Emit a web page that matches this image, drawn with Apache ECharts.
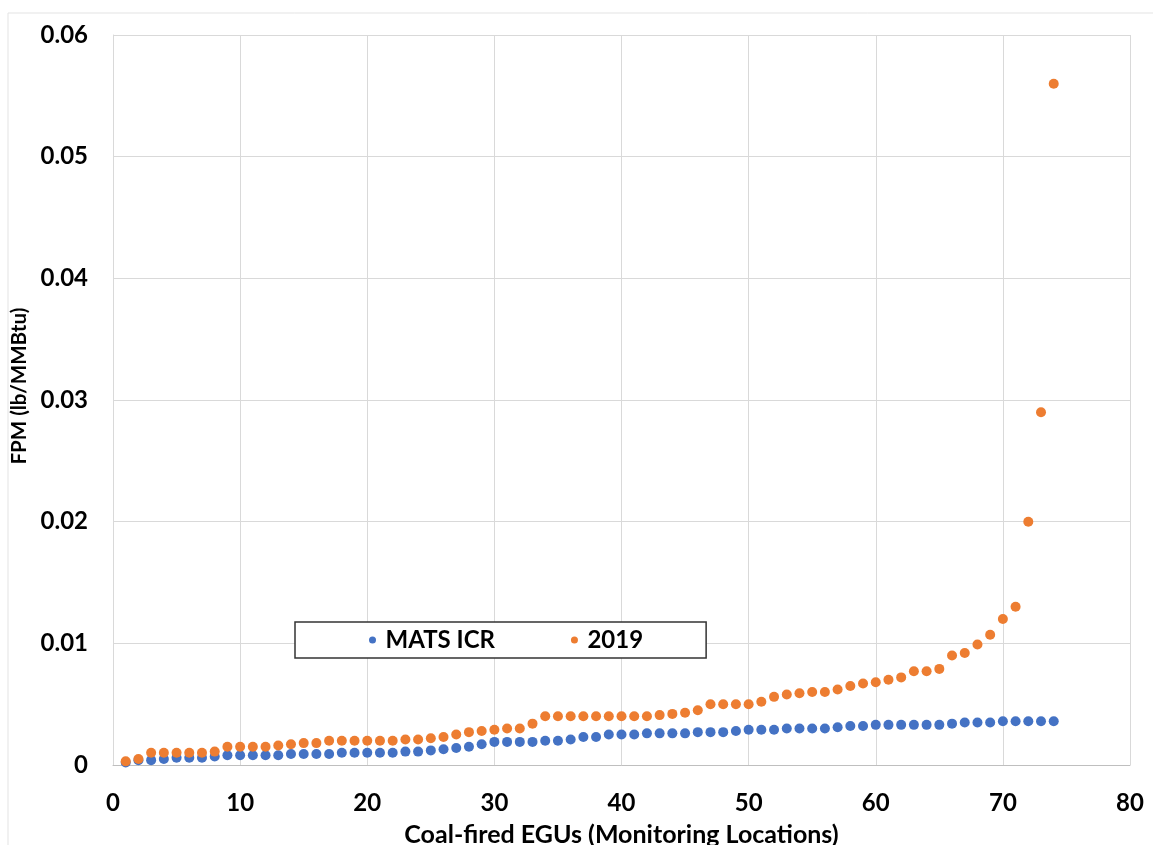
<!DOCTYPE html>
<html>
<head>
<meta charset="utf-8">
<title>FPM emission rates, coal-fired EGUs</title>
<script src="https://cdn.jsdelivr.net/npm/echarts@6/dist/echarts.min.js"></script>
<style>
  html, body { margin: 0; padding: 0; background: #ffffff; }
  #chart { width: 1153px; height: 845px; }
</style>
</head>
<body>
<div id="chart"></div>
<script>
// Monitoring location rank (1..74), sorted by emission rate
const units = Array.from({ length: 74 }, (_, i) => i + 1);

// FPM (lb/MMBtu) from the MATS information collection request
const matsIcr = [
  0.0002, 0.0004, 0.0004, 0.0005, 0.0006, 0.0006, 0.0006, 0.0007, 0.0008, 0.0008,
  0.0008, 0.0008, 0.0008, 0.0009, 0.0009, 0.0009, 0.0009, 0.0010, 0.0010, 0.0010,
  0.0010, 0.0010, 0.0011, 0.0011, 0.0012, 0.0013, 0.0014, 0.0015, 0.0017, 0.0019,
  0.0019, 0.0019, 0.0019, 0.0020, 0.0020, 0.0021, 0.0023, 0.0023, 0.0025, 0.0025,
  0.0025, 0.0026, 0.0026, 0.0026, 0.0026, 0.0027, 0.0027, 0.0027, 0.0028, 0.0029,
  0.0029, 0.0029, 0.0030, 0.0030, 0.0030, 0.0030, 0.0031, 0.0032, 0.0032, 0.0033,
  0.0033, 0.0033, 0.0033, 0.0033, 0.0033, 0.0034, 0.0035, 0.0035, 0.0035, 0.0036,
  0.0036, 0.0036, 0.0036, 0.0036
];

// FPM (lb/MMBtu) reported for 2019
const year2019 = [
  0.0003, 0.0005, 0.0010, 0.0010, 0.0010, 0.0010, 0.0010, 0.0011, 0.0015, 0.0015,
  0.0015, 0.0015, 0.0016, 0.0017, 0.0018, 0.0018, 0.0020, 0.0020, 0.0020, 0.0020,
  0.0020, 0.0020, 0.0021, 0.0021, 0.0022, 0.0023, 0.0025, 0.0027, 0.0028, 0.0029,
  0.0030, 0.0030, 0.0034, 0.0040, 0.0040, 0.0040, 0.0040, 0.0040, 0.0040, 0.0040,
  0.0040, 0.0040, 0.0041, 0.0042, 0.0043, 0.0045, 0.0050, 0.0050, 0.0050, 0.0050,
  0.0052, 0.0056, 0.0058, 0.0059, 0.0060, 0.0060, 0.0062, 0.0065, 0.0067, 0.0068,
  0.0070, 0.0072, 0.0077, 0.0077, 0.0079, 0.0090, 0.0092, 0.0099, 0.0107, 0.0120,
  0.0130, 0.0200, 0.0290, 0.0560
];

const seriesNames = ['MATS ICR', '2019'];
const xTicks = { min: 0, max: 80, step: 10 };
const yTicks = { min: 0, max: 0.06, step: 0.01 };

const FONT = 'Lato, "Liberation Sans", sans-serif';

const chart = echarts.init(document.getElementById('chart'), null, { renderer: 'canvas' });

chart.setOption({
  backgroundColor: '#ffffff',
  animation: false,
  textStyle: { fontFamily: FONT },
  graphic: [{
    type: 'rect',
    shape: { x: 8, y: 13, width: 1160, height: 850 },
    style: { fill: 'none', stroke: '#e3e3e3', lineWidth: 1 },
    silent: true,
    z: -10
  }],
  grid: {
    left: 113, right: 23, top: 35, bottom: 80,
    containLabel: false,
    outerBoundsMode: 'none'
  },
  legend: {
    data: seriesNames,
    left: 295,
    top: 622,
    orient: 'horizontal',
    icon: 'circle',
    itemWidth: 16,
    itemHeight: 7,
    itemGap: 76,
    padding: [6, 63, 6, 74],
    borderColor: '#333333',
    borderWidth: 1.5,
    backgroundColor: '#ffffff',
    textStyle: { fontFamily: FONT, fontSize: 24, fontWeight: 'bold', color: '#000000' }
  },
  xAxis: {
    type: 'value',
    min: xTicks.min,
    max: xTicks.max,
    interval: xTicks.step,
    name: 'Coal-fired EGUs (Monitoring Locations)',
    nameLocation: 'middle',
    nameGap: 57,
    nameTextStyle: { fontFamily: FONT, fontSize: 25, fontWeight: 'bold', color: '#000000' },
    axisLine: { show: true, lineStyle: { color: '#bfbfbf', width: 1 } },
    axisTick: { show: false },
    axisLabel: { fontFamily: FONT, fontSize: 24, fontWeight: 'bold', color: '#000000', margin: 26 },
    splitLine: { show: true, lineStyle: { color: '#d9d9d9', width: 1 } }
  },
  yAxis: {
    type: 'value',
    min: yTicks.min,
    max: yTicks.max,
    interval: yTicks.step,
    name: 'FPM (lb/MMBtu)',
    nameLocation: 'middle',
    nameGap: 80,
    nameRotate: 90,
    nameTextStyle: {
      fontFamily: FONT, fontSize: 20.5, fontWeight: 'bold', color: '#000000',
      padding: [0, 0, 0, 28]
    },
    axisLine: { show: true, lineStyle: { color: '#d9d9d9', width: 1 } },
    axisTick: { show: false },
    axisLabel: {
      fontFamily: FONT, fontSize: 24, fontWeight: 'bold', color: '#000000', margin: 25,
      formatter: v => (v === 0 ? '0' : v.toFixed(2))
    },
    splitLine: { show: true, lineStyle: { color: '#d9d9d9', width: 1 } }
  },
  series: [
    {
      name: seriesNames[0],
      type: 'scatter',
      symbol: 'circle',
      symbolSize: 10,
      itemStyle: { color: '#4472C4', opacity: 1 },
      data: units.map((u, i) => [u, matsIcr[i]])
    },
    {
      name: seriesNames[1],
      type: 'scatter',
      symbol: 'circle',
      symbolSize: 10,
      itemStyle: { color: '#ED7D31', opacity: 1 },
      data: units.map((u, i) => [u, year2019[i]])
    }
  ]
});
</script>
</body>
</html>
